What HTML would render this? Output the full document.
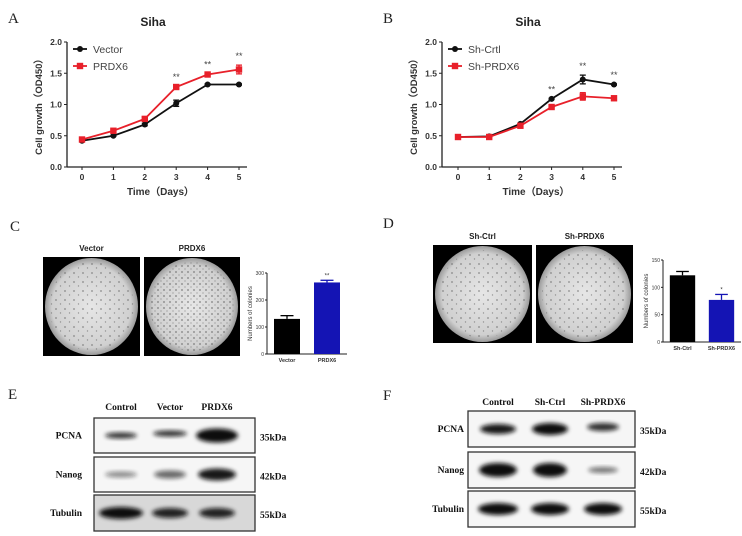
<!DOCTYPE html>
<html><head><meta charset="utf-8"><style>
html,body{margin:0;padding:0;background:#fff}
svg{display:block;font-family:"Liberation Sans",sans-serif}
</style></head><body>
<svg id="fig" width="742" height="536" viewBox="0 0 742 536">
<defs>
<filter id="blur" x="-20%" y="-50%" width="140%" height="200%"><feGaussianBlur stdDeviation="2"/></filter>
<radialGradient id="plate" cx="50%" cy="50%" r="50%"><stop offset="0" stop-color="#e6e6e6"/><stop offset="0.85" stop-color="#d0d0d0"/><stop offset="1" stop-color="#9a9a9a"/></radialGradient>
<pattern id="dots" width="9" height="9" patternUnits="userSpaceOnUse"><circle cx="2" cy="3" r="0.9" fill="#555"/><circle cx="6.5" cy="7" r="0.7" fill="#666"/></pattern>
<pattern id="dots2" width="6" height="6" patternUnits="userSpaceOnUse"><circle cx="2" cy="2" r="0.9" fill="#444"/><circle cx="5" cy="5" r="0.6" fill="#555"/></pattern>
</defs>
<g id="root"></g>
</svg>
<script>
// Panel A data
const daysA = [0,1,2,3,4,5];
const vectorVals = [0.42,0.50,0.68,1.02,1.32,1.32];
const vectorErr = [0.01,0.01,0.02,0.05,0.01,0.01];
const prdx6Vals = [0.44,0.58,0.77,1.28,1.48,1.56];
const prdx6Err = [0.02,0.02,0.03,0.02,0.02,0.07];
const sigA = ["","","","**","**","**"];
// Panel B data
const shCtrlVals = [0.48,0.49,0.69,1.09,1.40,1.32];
const shCtrlErr = [0.01,0.01,0.01,0.01,0.07,0.01];
const shPrdx6Vals = [0.48,0.48,0.66,0.96,1.13,1.10];
const shPrdx6Err = [0.01,0.01,0.01,0.01,0.06,0.02];
const sigB = ["","","","**","**","**"];
const yTicks = [0.0,0.5,1.0,1.5,2.0];
// Panel C / D bars
const colCcats = ["Vector","PRDX6"];
const colCvals = [130,265];
const colCerr = [12,8];
const colCticks = [0,100,200,300];
const colDcats = ["Sh-Ctrl","Sh-PRDX6"];
const colDvals = [122,77];
const colDerr = [7,10];
const colDticks = [0,50,100,150];

const NS="http://www.w3.org/2000/svg";
const root=document.getElementById('root');
function el(tag,attrs,parent,text){const e=document.createElementNS(NS,tag);for(const k in attrs)e.setAttribute(k,attrs[k]);if(text!==undefined)e.textContent=text;(parent||root).appendChild(e);return e;}

function lineChart(o){
  const g=el('g',{});
  
  
  const sx=d=>o.x0+(o.x1-o.x0)*d/5, sy=v=>o.yb-(o.yb-o.yt)*v/2;
  const t=el('text',{x:(o.ax+o.x1)/2,y:26,'font-size':12,'font-weight':'bold','text-anchor':'middle',fill:'#222'},g,'Siha');
  
  el('line',{x1:o.ax,y1:o.yt,x2:o.ax,y2:o.yb,stroke:'#222','stroke-width':1.3},g);
  el('line',{x1:o.ax,y1:o.yb,x2:o.x1+8,y2:o.yb,stroke:'#222','stroke-width':1.3},g);
  yTicks.forEach(v=>{el('line',{x1:o.ax-3,y1:sy(v),x2:o.ax,y2:sy(v),stroke:'#222'},g);
    const tl=el('text',{x:o.ax-5,y:sy(v)+3,'font-size':8.5,'font-weight':'bold','text-anchor':'end',fill:'#333'},g,v.toFixed(1));
    });
  daysA.forEach(d=>{el('line',{x1:sx(d),y1:o.yb,x2:sx(d),y2:o.yb+3,stroke:'#222'},g);
    const tl=el('text',{x:sx(d),y:o.yb+13,'font-size':8.5,'font-weight':'bold','text-anchor':'middle',fill:'#333'},g,String(d));
    });
  const xt=el('text',{x:(o.x0+o.x1)/2,y:o.yb+28,'font-size':10,'font-weight':'bold','text-anchor':'middle',fill:'#333'},g,'Time（Days）');
  
  const yt=el('text',{x:0,y:0,'font-size':9.5,'font-weight':'bold','text-anchor':'middle',fill:'#333',transform:`translate(${o.ax-25},${(o.yt+o.yb)/2}) rotate(-90)`},g,'Cell growth（OD450）');
  
  o.series.forEach((s,si)=>{
    const pts=s.vals.map((v,i)=>sx(daysA[i])+','+sy(v)).join(' ');
    const pl=el('polyline',{points:pts,fill:'none',stroke:s.color,'stroke-width':1.8},g);
    
    s.vals.forEach((v,i)=>{const x=sx(daysA[i]);
      el('line',{x1:x,y1:sy(v+s.err[i]),x2:x,y2:sy(v-s.err[i]),stroke:s.color,'stroke-width':1.3},g);
      el('line',{x1:x-3,y1:sy(v+s.err[i]),x2:x+3,y2:sy(v+s.err[i]),stroke:s.color,'stroke-width':1.3},g);
      el('line',{x1:x-3,y1:sy(v-s.err[i]),x2:x+3,y2:sy(v-s.err[i]),stroke:s.color,'stroke-width':1.3},g);
      let m;
      if(s.shape==='c')m=el('circle',{cx:x,cy:sy(v),r:3,fill:s.color},g);
      else m=el('rect',{x:x-3.2,y:sy(v)-3.2,width:6.4,height:6.4,fill:s.color},g);
      });
    const ly=o.yt+7+si*17, lx=o.ax+6;
    el('line',{x1:lx,y1:ly,x2:lx+14,y2:ly,stroke:s.color,'stroke-width':1.8},g);
    if(s.shape==='c')el('circle',{cx:lx+7,cy:ly,r:3,fill:s.color},g);else el('rect',{x:lx+3.8,y:ly-3.2,width:6.4,height:6.4,fill:s.color},g);
    const lt=el('text',{x:lx+20,y:ly+4,'font-size':10.5,fill:'#444'},g,s.label);
    
  });
  o.sig.forEach((s,i)=>{if(!s)return;const top=Math.max(...o.series.map(se=>se.vals[i]+se.err[i]));
    const st=el('text',{x:sx(daysA[i]),y:sy(top)-6,'font-size':9,'text-anchor':'middle',fill:'#444'},g,s);
    });
}
lineChart({name:'panel-a-chart',ax:67,x0:82,x1:239,yt:42,yb:167,sig:sigA,series:[
 {key:'vector',label:'Vector',vals:vectorVals,err:vectorErr,color:'#111',shape:'c'},
 {key:'prdx6',label:'PRDX6',vals:prdx6Vals,err:prdx6Err,color:'#e8202a',shape:'s'}]});
lineChart({name:'panel-b-chart',ax:442,x0:458,x1:614,yt:42,yb:167,sig:sigB,series:[
 {key:'sh-crtl',label:'Sh-Crtl',vals:shCtrlVals,err:shCtrlErr,color:'#111',shape:'c'},
 {key:'sh-prdx6',label:'Sh-PRDX6',vals:shPrdx6Vals,err:shPrdx6Err,color:'#e8202a',shape:'s'}]});

function barChart(o){
  const g=el('g',{});
  
  
  const max=o.ticks[o.ticks.length-1];
  const sy=v=>o.yb-(o.yb-o.yt)*v/max;
  el('line',{x1:o.ax,y1:o.yt,x2:o.ax,y2:o.yb,stroke:'#222'},g);
  el('line',{x1:o.ax,y1:o.yb,x2:o.ax+o.w,y2:o.yb,stroke:'#222'},g);
  o.ticks.forEach(v=>{el('line',{x1:o.ax-2,y1:sy(v),x2:o.ax,y2:sy(v),stroke:'#222'},g);
    el('text',{x:o.ax-3,y:sy(v)+2,'font-size':5,'text-anchor':'end',fill:'#333'},g,String(v));});
  const yt=el('text',{x:0,y:0,'font-size':6,'text-anchor':'middle',fill:'#333',transform:`translate(${o.ax-15},${(o.yt+o.yb)/2}) rotate(-90)`},g,'Numbers of colonies');
  
  const slot=o.w/o.cats.length;
  o.cats.forEach((c,i)=>{const cx=o.ax+slot*(i+0.5), bw=slot*0.65, v=o.vals[i], col=i?'#1414b4':'#000';
    const b=el('rect',{x:cx-bw/2,y:sy(v),width:bw,height:o.yb-sy(v),fill:col},g);
    
    el('line',{x1:cx,y1:sy(v),x2:cx,y2:sy(v+o.err[i]),stroke:col,'stroke-width':1.3},g);
    el('line',{x1:cx-bw/4,y1:sy(v+o.err[i]),x2:cx+bw/4,y2:sy(v+o.err[i]),stroke:col,'stroke-width':1.3},g);
    el('text',{x:cx,y:o.yb+8,'font-size':5.5,'font-weight':'bold','text-anchor':'middle',fill:'#333'},g,c);
    if(o.sig[i])el('text',{x:cx,y:sy(v+o.err[i])-3,'font-size':6,'text-anchor':'middle',fill:'#333'},g,o.sig[i]);
  });
}
barChart({name:'panel-c-bar-chart',ax:267,yt:273,yb:354,w:80,cats:colCcats,vals:colCvals,err:colCerr,ticks:colCticks,sig:['','**']});
barChart({name:'panel-d-bar-chart',ax:663,yt:260,yb:342,w:78,cats:colDcats,vals:colDvals,err:colDerr,ticks:colDticks,sig:['','*']});

function plate(x,y,w,h,name,pat,label){
  const g=el('g',{});
  
  el('rect',{x:x,y:y,width:w,height:h,fill:'#000'},g);
  el('ellipse',{cx:x+w/2,cy:y+h/2,rx:w/2-2,ry:h/2-1,fill:'url(#plate)'},g);
  el('ellipse',{cx:x+w/2,cy:y+h/2,rx:w/2-6,ry:h/2-5,fill:'url(#'+pat+')',opacity:0.6},g);
  const t=el('text',{x:x+w/2,y:y-6,'font-size':8,'font-weight':'bold','text-anchor':'middle',fill:'#222'},g,label);
  
}
plate(43,257,97,99,'plate-vector','dots','Vector');
plate(144,257,96,99,'plate-prdx6','dots2','PRDX6');
plate(433,245,99,98,'plate-sh-ctrl','dots','Sh-Ctrl');
plate(536,245,97,98,'plate-sh-prdx6','dots','Sh-PRDX6');

[['A',8,23],['B',383,23],['C',10,231],['D',383,228],['E',8,399],['F',383,400]].forEach(p=>{
  const t=el('text',{x:p[1],y:p[2],'font-size':15,'font-family':'Liberation Serif, serif',fill:'#222'},root,p[0]);
  });

function blot(o){
  const g=el('g',{'font-family':'Liberation Serif, serif','font-weight':'bold',fill:'#111'});
  
  o.lanes.forEach((l,i)=>el('text',{x:o.laneX[i],y:o.hy,'font-size':9.5,'text-anchor':'middle'},g,l));
  o.rows.forEach((r,ri)=>{
    const [y0,y1]=r.y, cy=(y0+y1)/2;
    el('rect',{x:o.x0,y:y0,width:o.x1-o.x0,height:y1-y0,fill:r.bg||'#f6f6f6',stroke:'#333','stroke-width':1.3},g);
    r.bands.forEach((b,i)=>{const e=el('ellipse',{cx:o.laneX[i],cy:cy+(b[2]||0),rx:b[0],ry:b[1],fill:'#111',filter:'url(#blur)',opacity:b[3]||0.9},g);
      });
    el('text',{x:o.lx,y:cy+3,'font-size':9.5,'text-anchor':'end'},g,r.name);
    el('text',{x:o.x1+5,y:cy+5,'font-size':9.5},g,r.kda);
  });
}
blot({name:'panel-e-western-blot',x0:94,x1:255,hy:410,lx:82,lanes:['Control','Vector','PRDX6'],laneX:[121,170,217],rows:[
 {name:'PCNA',kda:'35kDa',y:[418,453],bands:[[16,3,0,0.85],[17,3,-2,0.85],[21,7,0,1]]},
 {name:'Nanog',kda:'42kDa',y:[457,492],bands:[[16,3,0,0.45],[16,4,0,0.6],[19,6,0,0.95]]},
 {name:'Tubulin',kda:'55kDa',y:[495,531],bg:'#d8d8d8',bands:[[22,6,0,1],[18,5,0,0.9],[18,5,0,0.9]]}]});
blot({name:'panel-f-western-blot',x0:468,x1:635,hy:405,lx:464,lanes:['Control','Sh-Ctrl','Sh-PRDX6'],laneX:[498,550,603],rows:[
 {name:'PCNA',kda:'35kDa',y:[411,447],bands:[[18,5,0,0.95],[18,6,0,1],[16,4,-2,0.85]]},
 {name:'Nanog',kda:'42kDa',y:[452,488],bands:[[19,7,0,1],[17,7,0,1],[15,3,0,0.55]]},
 {name:'Tubulin',kda:'55kDa',y:[491,527],bands:[[20,6,0,1],[19,6,0,1],[19,6,0,1]]}]});
</script>
</body></html>
